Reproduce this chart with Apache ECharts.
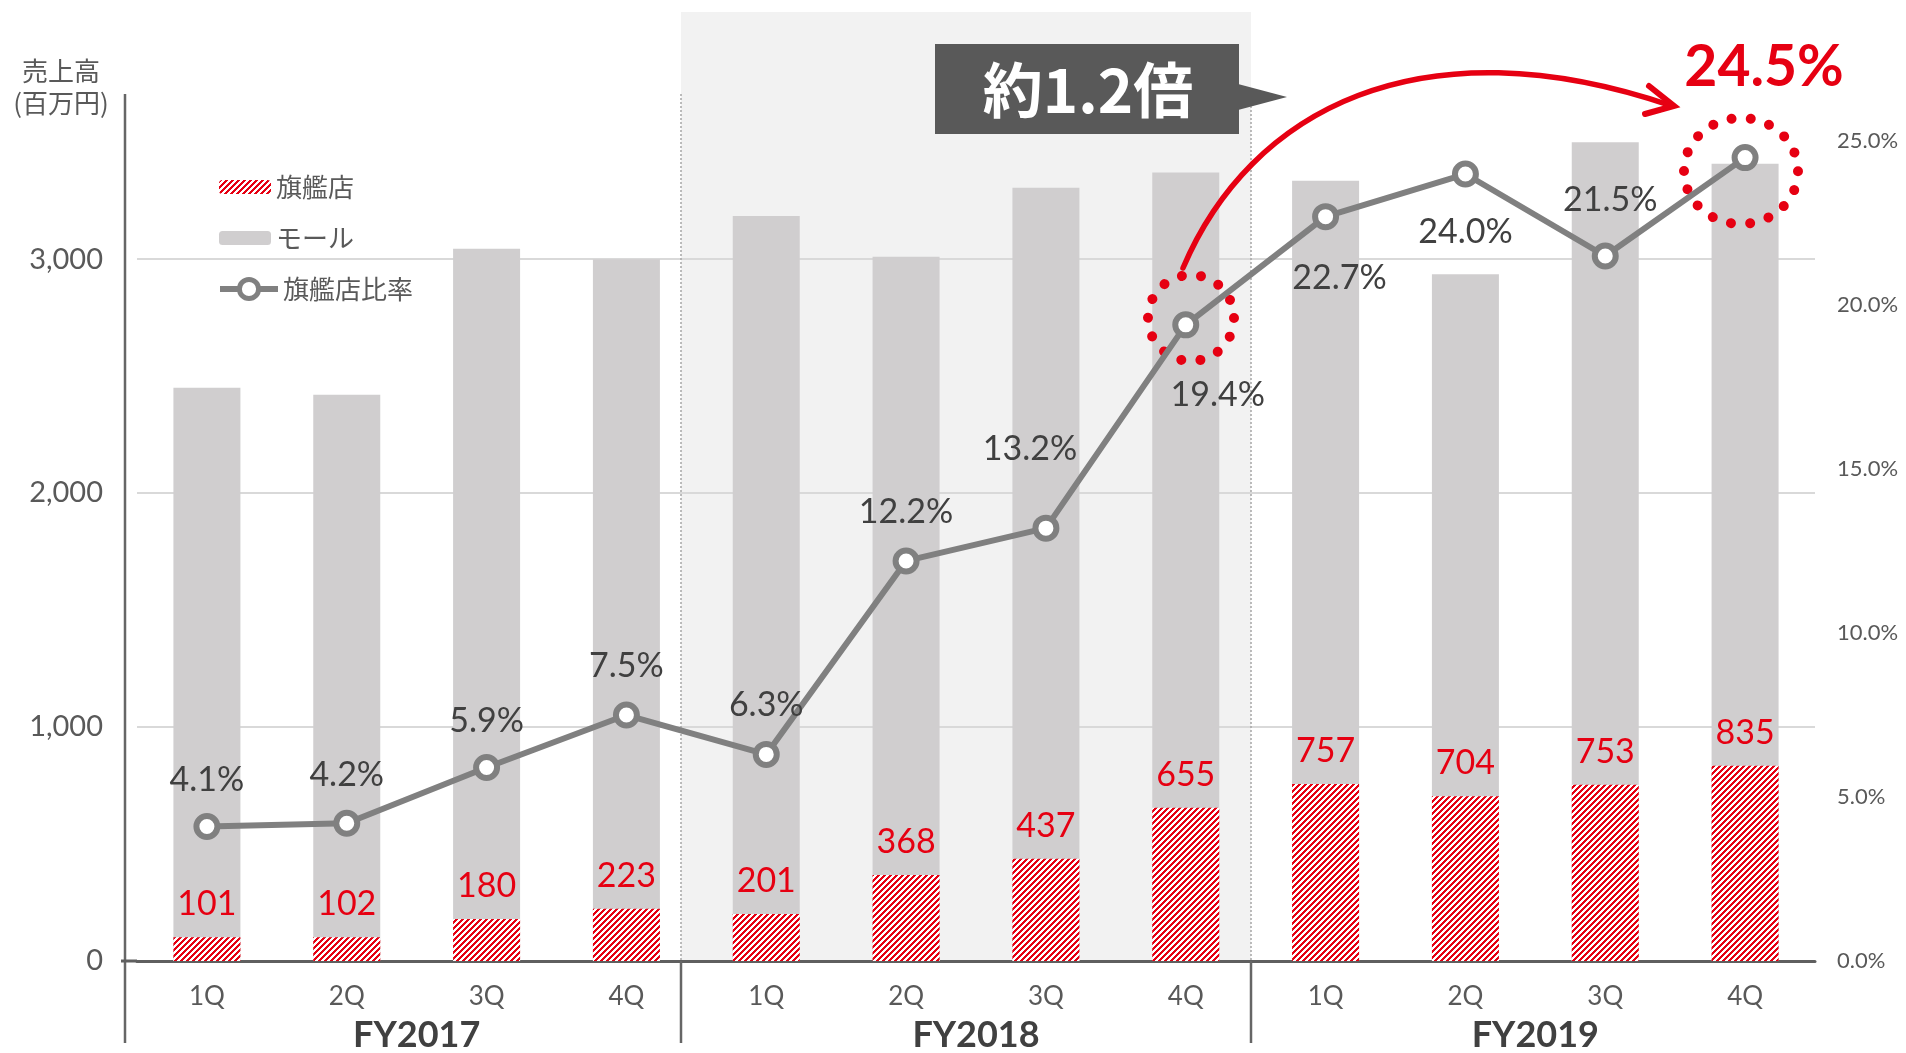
<!DOCTYPE html>
<html>
<head>
<meta charset="utf-8">
<script src="https://cdn.jsdelivr.net/npm/echarts@6/dist/echarts.min.js"></script>
<style>
  html, body { margin: 0; padding: 0; background: #fff; }
  #main { width: 1906px; height: 1053px; }
</style>
</head>
<body>
<div id="main"></div>
<script>
// data
var quarters = ['1Q', '2Q', '3Q', '4Q', '1Q', '2Q', '3Q', '4Q', '1Q', '2Q', '3Q', '4Q'];
var fiscalYears = ['FY2017', 'FY2018', 'FY2019'];
var flagship = [101, 102, 180, 223, 201, 368, 437, 655, 757, 704, 753, 835];        // 旗艦店
var totalSales = [2450, 2420, 3045, 3000, 3185, 3010, 3305, 3370, 3335, 2935, 3500, 3408]; // 売上高 (モール bar)
var flagshipRatio = [4.1, 4.2, 5.9, 7.5, 6.3, 12.2, 13.2, 19.4, 22.7, 24.0, 21.5, 24.5]; // 旗艦店比率 (%)

var RED = '#e60012';
var NUM_FONT = 'Lato, "Noto Sans CJK JP", sans-serif';
var JP_FONT = '"Noto Sans CJK JP", sans-serif';

// red diagonal hatch for 旗艦店, drawn pixel by pixel so it stays crisp
function hatch() {
  var n = 6;
  var c = document.createElement('canvas');
  c.width = n; c.height = n;
  var g = c.getContext('2d');
  g.fillStyle = '#fff';
  g.fillRect(0, 0, n, n);
  g.fillStyle = RED;
  for (var x = 0; x < n; x++) {
    for (var y = 0; y < n; y++) {
      if ((x + y) % n < 3) g.fillRect(x, y, 1, 1);
    }
  }
  return c;
}
var hatchFill = { image: hatch(), repeat: 'repeat' };

// where each ratio label sits relative to its marker
var ratioLabelOffsets = [
  [0, -47], [0, -48], [0, -47], [0, -49], [0, -49], [0, -49],
  [-16, -79], [32, 70], [14, 61], [0, 58], [5, -56], [19, -90]
];

var ratioData = flagshipRatio.map(function (v, i) {
  var item = { value: v, label: { offset: ratioLabelOffsets[i] } };
  if (i === flagshipRatio.length - 1) {
    item.label.color = RED;
    item.label.fontSize = 57;
    item.label.fontWeight = 'bold';
  }
  return item;
});

var chart = echarts.init(document.getElementById('main'));

var option = {
  animation: false,
  backgroundColor: '#fff',
  grid: { left: 137, right: 91, top: 94, bottom: 92 },
  legend: [
    {
      data: ['旗艦店', 'モール'],
      orient: 'vertical', left: 214, top: 167,
      itemWidth: 52, itemHeight: 14, itemGap: 21,
      textStyle: { fontSize: 26, color: '#595959', fontFamily: JP_FONT, lineHeight: 30 }
    },
    {
      data: ['旗艦店比率'],
      orient: 'vertical', left: 212, top: 269,
      itemWidth: 58, itemHeight: 24,
      lineStyle: { width: 6, color: '#808080' },
      itemStyle: { color: '#fff', borderColor: '#808080', borderWidth: 5 },
      textStyle: { fontSize: 26, color: '#595959', fontFamily: JP_FONT, lineHeight: 30 }
    }
  ],
  xAxis: [
    {
      type: 'category',
      data: quarters,
      axisLine: { lineStyle: { color: '#5f5f5f', width: 3 } },
      axisTick: { show: false },
      axisLabel: { margin: 23, fontSize: 26, color: '#595959', fontFamily: NUM_FONT }
    },
    {
      type: 'category',
      data: fiscalYears,
      position: 'bottom',
      axisLine: { show: false },
      axisTick: { show: false },
      axisLabel: { margin: 56, fontSize: 36, fontWeight: 'bold', color: '#404040', fontFamily: NUM_FONT }
    }
  ],
  yAxis: [
    {
      type: 'value', min: 0, max: 3706, interval: 1000,
      axisLine: { show: false },
      axisTick: { show: false },
      axisLabel: {
        margin: 34, fontSize: 29, color: '#595959', fontFamily: NUM_FONT, showMaxLabel: false,
        formatter: function (v) { return v.toLocaleString('en-US'); }
      },
      splitLine: { showMaxLine: false, lineStyle: { color: '#d9d9d9', width: 2 } }
    },
    {
      type: 'value', min: 0, max: 26.44, interval: 5,
      position: 'right',
      axisLine: { show: false },
      axisTick: { show: false },
      axisLabel: {
        margin: 22, fontSize: 22, color: '#595959', fontFamily: NUM_FONT, showMaxLabel: false,
        formatter: function (v) { return v.toFixed(1) + '%'; }
      },
      splitLine: { show: false }
    }
  ],
  series: [
    {
      name: 'モール',
      type: 'bar',
      data: totalSales,
      barWidth: 67,
      barGap: '-100%',
      z: 2,
      itemStyle: { color: '#d0cecf' }
    },
    {
      name: '旗艦店',
      type: 'bar',
      data: flagship,
      barWidth: 67,
      barGap: '-100%',
      z: 3,
      itemStyle: { color: hatchFill },
      label: {
        show: true, position: 'top', distance: 16,
        fontSize: 34, color: RED, fontFamily: NUM_FONT
      }
    },
    {
      name: '旗艦店比率',
      type: 'line',
      yAxisIndex: 1,
      data: ratioData,
      z: 5,
      symbol: 'circle',
      symbolSize: 21,
      lineStyle: { color: '#808080', width: 6 },
      itemStyle: { color: '#fff', borderColor: '#808080', borderWidth: 6 },
      label: {
        show: true, position: 'inside',
        fontSize: 34, color: '#404040', fontFamily: NUM_FONT,
        formatter: function (p) { return p.value.toFixed(1) + '%'; }
      }
    }
  ],
  graphic: [
    // FY2018 band
    { type: 'rect', z: -10, shape: { x: 681, y: 12, width: 570, height: 949 }, style: { fill: '#f2f2f2' } },
    // dotted year dividers
    { type: 'line', z: 1, shape: { x1: 681, y1: 94, x2: 681, y2: 960 }, style: { stroke: '#a6a6a6', lineWidth: 1.5, lineDash: [2, 2] } },
    { type: 'line', z: 1, shape: { x1: 1251, y1: 94, x2: 1251, y2: 960 }, style: { stroke: '#a6a6a6', lineWidth: 1.5, lineDash: [2, 2] } },
    // left axis line and year separators below the axis
    { type: 'line', z: 1, shape: { x1: 125, y1: 94, x2: 125, y2: 1043 }, style: { stroke: '#666', lineWidth: 2.5 } },
    { type: 'line', z: 1, shape: { x1: 121, y1: 961, x2: 137, y2: 961 }, style: { stroke: '#5f5f5f', lineWidth: 3 } },
    { type: 'line', z: 1, shape: { x1: 681, y1: 961, x2: 681, y2: 1043 }, style: { stroke: '#666', lineWidth: 2.5 } },
    { type: 'line', z: 1, shape: { x1: 1251, y1: 961, x2: 1251, y2: 1043 }, style: { stroke: '#666', lineWidth: 2.5 } },
    // y axis title
    { type: 'text', x: 61, y: 71, style: { text: '売上高', fill: '#595959', fontSize: 26, fontFamily: JP_FONT, align: 'center', verticalAlign: 'middle' } },
    { type: 'text', x: 61, y: 103, style: { text: '(百万円)', fill: '#595959', fontSize: 26, fontFamily: JP_FONT, align: 'center', verticalAlign: 'middle' } },
    // callout
    { type: 'rect', z: 10, shape: { x: 935, y: 44, width: 304, height: 90 }, style: { fill: '#595959' } },
    { type: 'polygon', z: 10, shape: { points: [[1238, 84], [1287, 97], [1238, 110]] }, style: { fill: '#595959' } },
    { type: 'text', z: 11, x: 1088, y: 90, style: { text: '約1.2倍', fill: '#fff', fontSize: 60, fontWeight: 'bold', fontFamily: JP_FONT, align: 'center', verticalAlign: 'middle' } },
    // red arrow
    { type: 'bezierCurve', z: 10, shape: { x1: 1183, y1: 268, cpx1: 1250, cpy1: 110, cpx2: 1420, cpy2: 20, x2: 1672, y2: 106 }, style: { stroke: RED, lineWidth: 5.5, fill: null, lineCap: 'round' } },
    { type: 'polyline', z: 10, shape: { points: [[1649, 86], [1674, 106], [1645, 114]] }, style: { stroke: RED, lineWidth: 6, fill: null, lineCap: 'round', lineJoin: 'miter' } },
    // dotted highlight rings
    { type: 'circle', z: 4, shape: { cx: 1191, cy: 318, r: 43 }, style: { stroke: RED, lineWidth: 10, fill: null, lineCap: 'round', lineDash: [0.01, 19.3] } },
    { type: 'ellipse', z: 4, shape: { cx: 1741, cy: 171, rx: 57, ry: 53 }, style: { stroke: RED, lineWidth: 10, fill: null, lineCap: 'round', lineDash: [0.01, 19.2] } }
  ]
};

chart.setOption(option);
</script>
</body>
</html>
